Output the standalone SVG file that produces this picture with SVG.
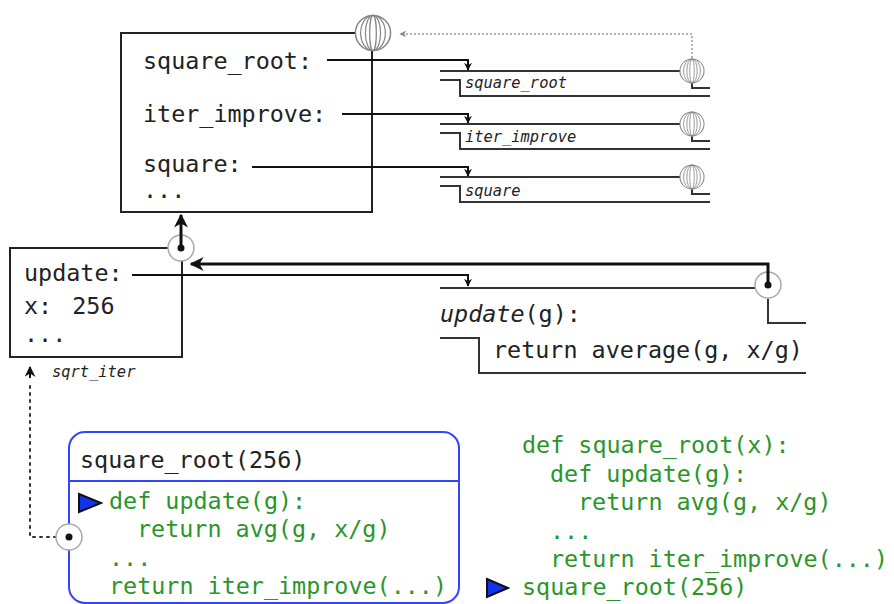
<svg xmlns="http://www.w3.org/2000/svg" width="894" height="604" viewBox="0 0 894 604">
<style>
.mono{font-family:"DejaVu Sans Mono","Liberation Mono",monospace;fill:#222;font-size:23.4px}
.lbl{font-family:"DejaVu Sans Mono","Liberation Mono",monospace;fill:#222;font-size:15.4px;font-style:italic}
.code{font-family:"DejaVu Sans Mono","Liberation Mono",monospace;fill:#2a962a;font-size:23.4px}
.frame{fill:none;stroke:#222;stroke-width:2}
.bind{fill:none;stroke:#111;stroke-width:2}
.fn{fill:none;stroke:#333;stroke-width:2}
.ptr{fill:none;stroke:#111;stroke-width:3}
.dots{fill:none;stroke:#333;stroke-width:2;stroke-dasharray:2 5;stroke-linecap:round}
.gdots{fill:none;stroke:#999;stroke-width:1.5;stroke-dasharray:2 2}
.ring{fill:#fff;stroke:#aaa;stroke-width:1.5}
</style>
<defs>
<symbol id="globe" viewBox="-20 -20 40 40">
<circle r="18.5" fill="#fff" stroke="#888" stroke-width="1.6"/>
<ellipse rx="13" ry="18.5" fill="none" stroke="#888" stroke-width="1.3"/>
<ellipse rx="8" ry="18.5" fill="none" stroke="#888" stroke-width="1.3"/>
<ellipse rx="3.5" ry="18.5" fill="none" stroke="#888" stroke-width="1.3"/>
</symbol>
<marker id="ah" viewBox="0 0 10 10" refX="9" refY="5" markerWidth="8" markerHeight="8" markerUnits="userSpaceOnUse" orient="auto">
<path d="M0,0 L10,5 L0,10 L3,5 Z" fill="#111"/>
</marker>
<marker id="ahb" viewBox="0 0 10 10" refX="9" refY="5" markerWidth="14" markerHeight="14" markerUnits="userSpaceOnUse" orient="auto">
<path d="M0,0 L10,5 L0,10 L3,5 Z" fill="#111"/>
</marker>
<marker id="ahg" viewBox="0 0 10 10" refX="9" refY="5" markerWidth="7" markerHeight="7" markerUnits="userSpaceOnUse" orient="auto">
<path d="M0,0 L10,5 L0,10 L3,5 Z" fill="#888"/>
</marker>
<marker id="ahd" viewBox="0 0 10 10" refX="9" refY="5" markerWidth="11" markerHeight="11" markerUnits="userSpaceOnUse" orient="auto">
<path d="M0,0 L10,5 L0,10 L3,5 Z" fill="#111"/>
</marker>
</defs>

<g id="global-frame">
<rect class="frame" x="121" y="33" width="251" height="179"/>
<text class="mono" x="143" y="69">square_root:</text>
<text class="mono" x="143" y="122">iter_improve:</text>
<text class="mono" x="143" y="172">square:</text>
<text class="mono" x="143" y="198">...</text>
<use href="#globe" x="354" y="14" width="38" height="38"/>
</g>

<g id="fn-square-root">
<path class="fn" d="M440,71 H680"/>
<path class="fn" d="M440,80 H460 V96 H710"/>
<path class="fn" d="M692,82 V88 H710"/>
<text class="lbl" x="465" y="88">square_root</text>
<use href="#globe" x="679" y="58" width="26" height="26"/>
</g>

<g id="fn-iter-improve">
<path class="fn" d="M440,124 H680"/>
<path class="fn" d="M440,133 H460 V149 H710"/>
<path class="fn" d="M692,135 V141 H710"/>
<text class="lbl" x="465" y="142">iter_improve</text>
<use href="#globe" x="679" y="111" width="26" height="26"/>
</g>

<g id="fn-square">
<path class="fn" d="M440,177 H680"/>
<path class="fn" d="M440,186 H460 V202 H710"/>
<path class="fn" d="M692,188 V194 H710"/>
<text class="lbl" x="465" y="196">square</text>
<use href="#globe" x="679" y="164" width="26" height="26"/>
</g>

<g id="sqrt-iter-frame">
<rect class="frame" x="10" y="248" width="172" height="109"/>
<text class="mono" x="24" y="281">update:</text>
<text class="mono" x="24" y="314" word-spacing="6">x: 256</text>
<text class="mono" x="24" y="342">...</text>
<text class="lbl" x="52" y="377">sqrt_iter</text>
<circle class="ring" cx="181" cy="248" r="13"/>
<circle cx="181" cy="248" r="3.5" fill="#111"/>
</g>

<g id="fn-update">
<path class="fn" d="M440,288 H755"/>
<text class="mono" x="440" y="322"><tspan font-style="italic">update</tspan>(g):</text>
<path class="fn" d="M440,338 H479 V373 H806"/>
<text class="mono" x="493" y="358">return average(g, x/g)</text>
<path class="fn" d="M768,299 V323 H806"/>
<circle class="ring" cx="768" cy="285" r="13"/>
<circle cx="768" cy="285" r="3.5" fill="#111"/>
</g>

<g id="call-frame">
<rect x="69" y="432" width="390" height="171" rx="16" fill="#fff" stroke="#3344ff" stroke-width="2"/>
<path d="M69,481 H459" stroke="#3344ff" stroke-width="2"/>
<text class="mono" x="80" y="468">square_root(256)</text>
<path d="M79,494 L101,503 L79,512 Z" fill="#1133ee" stroke="#111" stroke-width="2" stroke-linejoin="miter"/>
<text class="code" x="109" y="509">def update(g):</text>
<text class="code" x="137" y="537">return avg(g, x/g)</text>
<text class="code" x="109" y="566">...</text>
<text class="code" x="109" y="594">return iter_improve(...)</text>
</g>

<g id="source-code">
<text class="code" x="522" y="453">def square_root(x):</text>
<text class="code" x="550" y="482">def update(g):</text>
<text class="code" x="578" y="510">return avg(g, x/g)</text>
<text class="code" x="550" y="539">...</text>
<text class="code" x="550" y="567">return iter_improve(...)</text>
<text class="code" x="522" y="595">square_root(256)</text>
<path d="M487,579 L508,588 L487,597 Z" fill="#1133ee" stroke="#111" stroke-width="2"/>
</g>

<g id="connectors">
<path class="bind" d="M327,60 H468 V70" marker-end="url(#ah)"/>
<path class="bind" d="M342,114 H468 V123" marker-end="url(#ah)"/>
<path class="bind" d="M252,167 H468 V176" marker-end="url(#ah)"/>
<path class="bind" d="M132,275 H468 V286" marker-end="url(#ah)"/>
<path class="gdots" d="M692,58 V34 H400" marker-end="url(#ahg)"/>
<path class="ptr" d="M768,285 V264 H191" marker-end="url(#ahb)"/>
<path class="ptr" d="M181,248 V215" marker-end="url(#ahb)"/>
<path class="dots" d="M30,386 V537 H58"/>
<path d="M30,378 V367" stroke="#111" stroke-width="2" marker-end="url(#ahd)"/>
<circle class="ring" cx="69" cy="537" r="13"/>
<circle cx="69" cy="537" r="3.5" fill="#111"/>
</g>
</svg>
